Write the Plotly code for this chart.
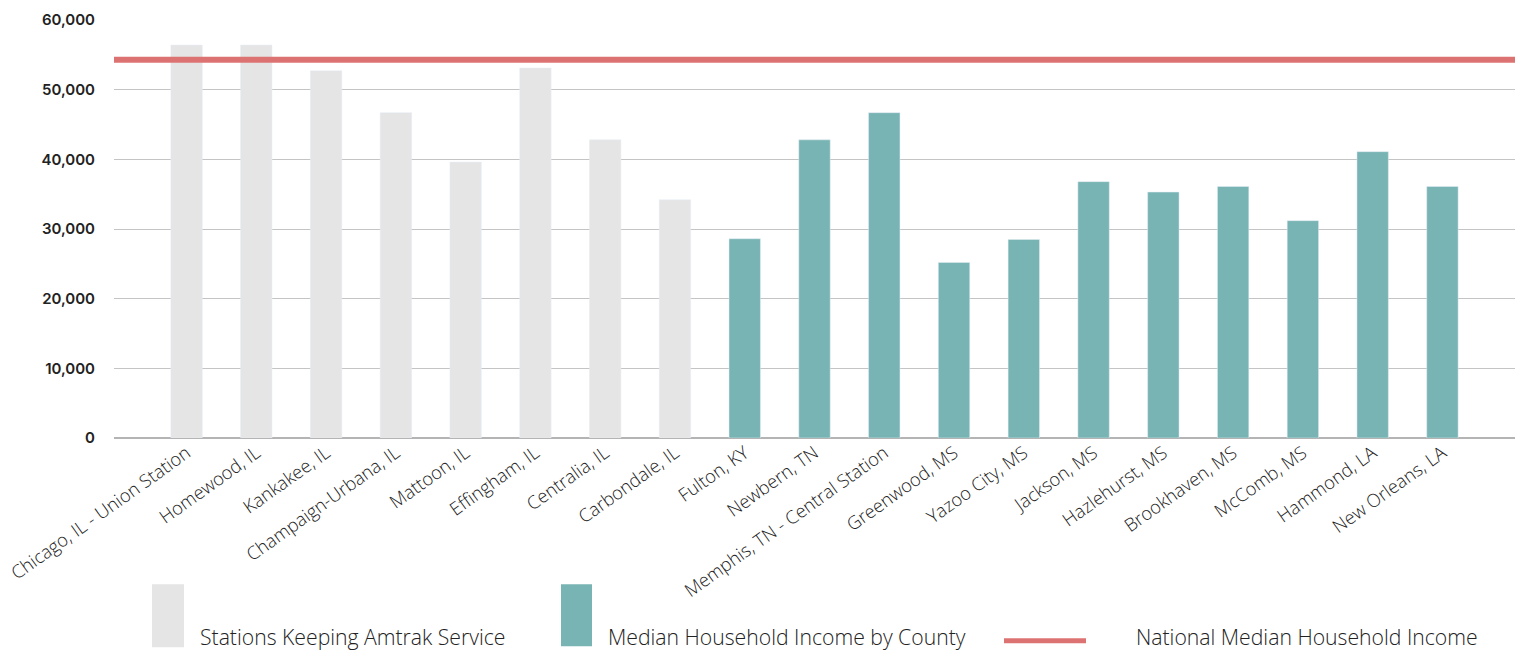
import plotly.graph_objects as go

# Stations on the City of New Orleans route and median household income
keep_stations = [
    "Chicago, IL - Union Station", "Homewood, IL", "Kankakee, IL",
    "Champaign-Urbana, IL", "Mattoon, IL", "Effingham, IL",
    "Centralia, IL", "Carbondale, IL",
]
keep_income = [56400, 56400, 52700, 46700, 39600, 53100, 42800, 34200]

county_stations = [
    "Fulton, KY", "Newbern, TN", "Memphis, TN - Central Station",
    "Greenwood, MS", "Yazoo City, MS", "Jackson, MS", "Hazlehurst, MS",
    "Brookhaven, MS", "McComb, MS", "Hammond, LA", "New Orleans, LA",
]
county_income = [28600, 42800, 46700, 25200, 28500, 36800, 35300, 36100,
                 31200, 41100, 36100]

national_median = 54300

y_ticks = [0, 10000, 20000, 30000, 40000, 50000, 60000]
y_tick_labels = ["0", "10,000", "20,000", "30,000", "40,000", "50,000", "60,000"]

legend_labels = ["Stations Keeping Amtrak Service",
                 "Median Household Income by County",
                 "National Median Household Income"]

GRAY = "#e5e5e5"
TEAL = "#78b4b3"
RED = "#dc7372"

W, H = 1520, 653
ML, MR, MT, MB = 114, 5, 20, 214.5
PW, PH = W - ML - MR, H - MT - MB


def px(x):
    return (x - ML) / PW


def py(y):
    return (H - MB - y) / PH


fig = go.Figure()
fig.add_trace(go.Bar(x=keep_stations, y=keep_income, marker_color=GRAY,
                     width=0.45, name=legend_labels[0], showlegend=False))
fig.add_trace(go.Bar(x=county_stations, y=county_income, marker_color=TEAL,
                     width=0.45, name=legend_labels[1], showlegend=False))

shapes = [
    # national median reference line across the full plot width
    dict(type="line", xref="paper", x0=0, x1=1, yref="y",
         y0=national_median, y1=national_median,
         line=dict(color=RED, width=6), layer="above"),
    # legend swatches
    dict(type="rect", xref="paper", yref="paper", x0=px(152), x1=px(184),
         y0=py(585), y1=py(648), fillcolor=GRAY, line_width=0),
    dict(type="rect", xref="paper", yref="paper", x0=px(561), x1=px(592),
         y0=py(585), y1=py(647), fillcolor=TEAL, line_width=0),
    dict(type="line", xref="paper", yref="paper", x0=px(1004), x1=px(1086),
         y0=py(641.5), y1=py(641.5), line=dict(color=RED, width=5)),
]

legend_font = dict(family="Open Sans", size=21.2, color="#222222", weight=300)
annotations = [
    dict(text=legend_labels[0], xref="paper", yref="paper", x=px(198), y=py(637),
         xanchor="left", yanchor="middle", showarrow=False, font=legend_font),
    dict(text=legend_labels[1], xref="paper", yref="paper", x=px(606), y=py(637),
         xanchor="left", yanchor="middle", showarrow=False, font=legend_font),
    dict(text=legend_labels[2], xref="paper", yref="paper", x=px(1134), y=py(637),
         xanchor="left", yanchor="middle", showarrow=False, font=legend_font),
]

fig.update_layout(
    width=W, height=H,
    margin=dict(l=ML, r=MR, t=MT, b=MB, pad=0),
    paper_bgcolor="white", plot_bgcolor="white",
    barmode="overlay",
    shapes=shapes, annotations=annotations,
    xaxis=dict(
        categoryorder="array", categoryarray=keep_stations + county_stations,
        range=[-1.04, 19.04], tickangle=-35.5, showgrid=False,
        showline=False, ticks="",
        tickfont=dict(family="Open Sans", size=18.3, color="#222222", weight=300),
    ),
    yaxis=dict(
        range=[0, 60000], tickvals=y_ticks, ticktext=y_tick_labels,
        showgrid=True, gridcolor="#c4c4c4", gridwidth=1,
        zeroline=True, zerolinecolor="#b4b4b4", zerolinewidth=1.5,
        showline=False, ticks="", ticklabelstandoff=18,
        tickfont=dict(family="Inter", size=15, color="#222222", weight=600),
    ),
)

fig.write_html("out.html")
